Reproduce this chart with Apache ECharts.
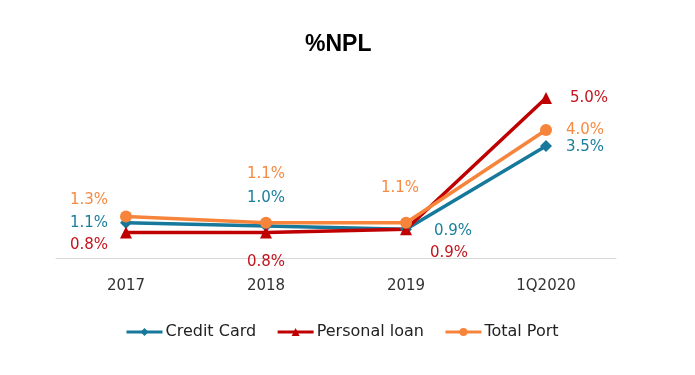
<!DOCTYPE html>
<html>
<head>
<meta charset="utf-8">
<script src="https://cdn.jsdelivr.net/npm/echarts@6/dist/echarts.min.js"></script>
<style>
  html, body { margin: 0; padding: 0; background: #fff; }
  #chart { width: 695px; height: 375px; }
</style>
</head>
<body>
<div id="chart"></div>
<script>
// 数据
var categories = ['2017', '2018', '2019', '1Q2020'];
var creditCard = [1.1, 1.0, 0.9, 3.5];
var personalLoan = [0.8, 0.8, 0.9, 5.0];
var totalPort = [1.3, 1.1, 1.1, 4.0];

// label placement per point: [position, distance, dx, dy]
var ccLabelPos = [['left', 12, 0, 0], ['top', 14, 0, 0], ['right', 22, 0, 2], ['right', 14, 0, 1]];
var plLabelPos = [['left', 12, 0, 13], ['bottom', 16, 0, 0], ['right', 18, 0, 24], ['right', 18, 0, 0]];
var tpLabelPos = [['left', 12, 0, -16], ['top', 35, 0, 0], ['top', 21, -6, 0], ['right', 14, 0, 0]];

function buildData(values, pos) {
  return values.map(function (v, i) {
    return {
      value: v,
      label: {
        position: pos[i][0],
        distance: pos[i][1],
        offset: [pos[i][2], pos[i][3]]
      }
    };
  });
}

function lineSeries(name, values, pos, color, labelColor, symbol, symbolSize) {
  return {
    name: name,
    type: 'line',
    data: buildData(values, pos),
    symbol: symbol,
    symbolSize: symbolSize,
    showAllSymbol: true,
    lineStyle: { width: 3.5, color: color },
    itemStyle: { color: color },
    label: {
      show: true,
      color: labelColor,
      fontSize: 15,
      fontFamily: 'DejaVu Sans',
      formatter: function (p) { return p.value.toFixed(1) + '%'; }
    }
  };
}

var chart = echarts.init(document.getElementById('chart'));
var option = {
  animation: false,
  backgroundColor: '#fff',
  title: {
    text: '%NPL',
    left: 300,
    top: 28,
    textStyle: {
      fontSize: 23,
      fontWeight: 'bold',
      fontFamily: 'Liberation Sans',
      color: '#000'
    }
  },
  grid: {
    left: 56,
    right: 79,
    top: 66,
    bottom: 117
  },
  legend: {
    bottom: 30,
    left: 120,
    itemWidth: 36,
    itemHeight: 10,
    itemGap: 20,
    lineStyle: { width: 3 },
    textStyle: {
      fontSize: 16,
      fontFamily: 'DejaVu Sans',
      color: '#222',
      padding: [0, 0, 0, -2]
    },
    data: ['Credit Card', 'Personal loan', 'Total Port']
  },
  xAxis: {
    type: 'category',
    data: categories,
    boundaryGap: true,
    axisLine: { lineStyle: { color: '#d9d9d9', width: 1 } },
    axisTick: { show: false },
    axisLabel: {
      fontSize: 15,
      fontFamily: 'DejaVu Sans',
      color: '#333',
      margin: 21
    }
  },
  yAxis: {
    type: 'value',
    min: 0,
    max: 6,
    show: false
  },
  series: [
    lineSeries('Credit Card', creditCard, ccLabelPos, '#16789a', '#1a7f9c', 'diamond', 12),
    lineSeries('Personal loan', personalLoan, plLabelPos, '#c00000', '#c0141e', 'triangle', 12),
    lineSeries('Total Port', totalPort, tpLabelPos, '#f7843b', '#f58a42', 'circle', 12)
  ]
};
chart.setOption(option);
</script>
</body>
</html>
